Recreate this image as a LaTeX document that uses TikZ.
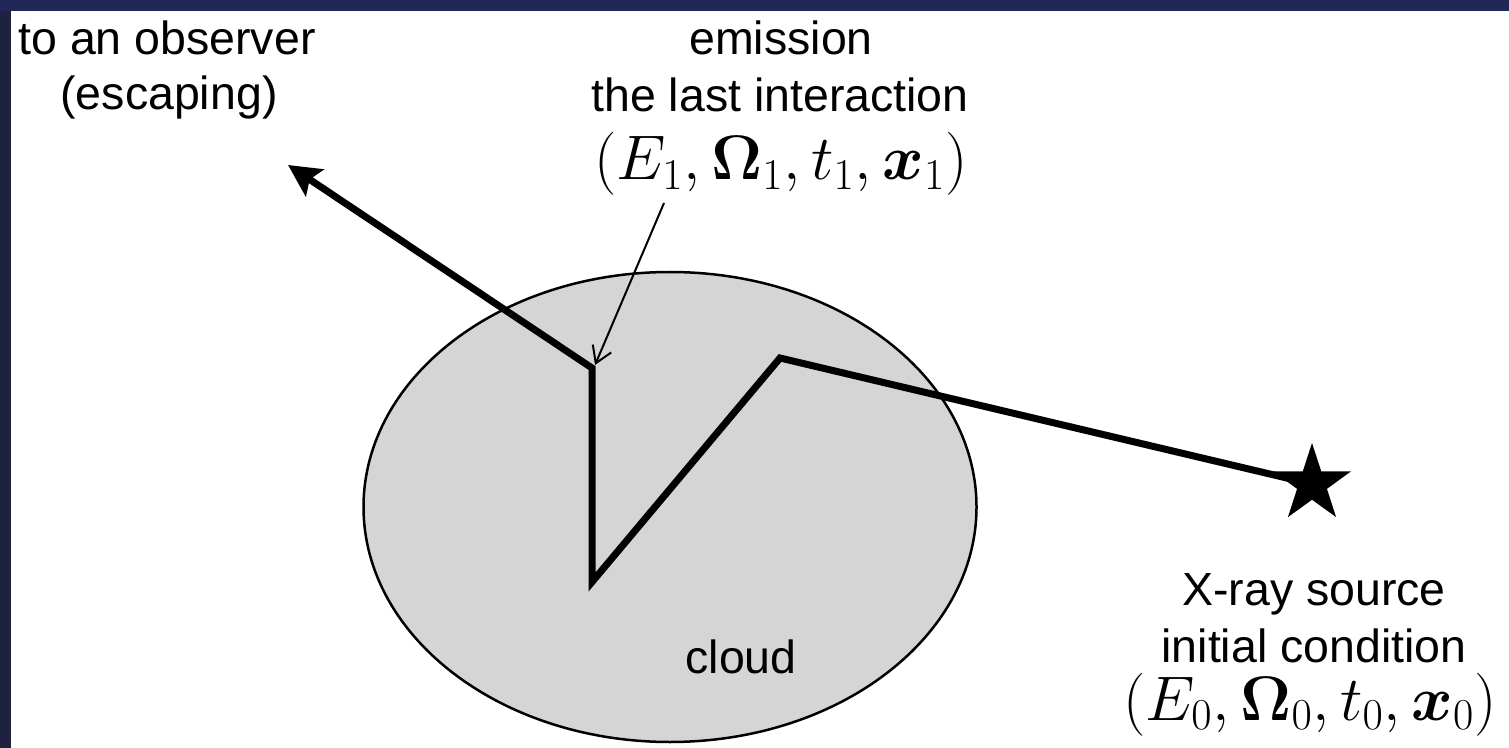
\RequirePackage{fix-cm}
\documentclass[tikz,border=0pt]{standalone}
\usepackage{amsmath}
\usepackage[no-math]{fontspec}
\setmainfont{Liberation Sans}
\usetikzlibrary{arrows.meta,shapes.geometric}
\definecolor{topband}{RGB}{33,40,88}
\definecolor{leftband}{RGB}{30,34,62}
\definecolor{cloudgray}{RGB}{213,213,213}
\tikzset{
  sanslbl/.style={font=\fontsize{23.25}{28}\selectfont, inner sep=0pt, anchor=base},
  mathlbl/.style={font=\fontsize{31.5}{38}\selectfont, inner sep=0pt, anchor=base},
  photon/.style={line width=3.5pt, -{Stealth[length=16pt,width=16pt,inset=3pt]}},
  pointer/.style={line width=1pt, -{Straight Barb[length=8pt,width=10pt]}},
  cloudshape/.style={fill=cloudgray, draw=black, line width=1.25pt}
}
\begin{document}
\begin{tikzpicture}[x=0.5pt,y=-0.5pt]
\useasboundingbox (0,0) rectangle (1509,748);
\fill[white] (0,0) rectangle (1509,748);
\fill[topband] (0,0) rectangle (1509,11);
\fill[leftband] (0,11) rectangle (11,748);

% cloud
\node[cloudshape, ellipse, minimum width=306.5pt, minimum height=235pt, inner sep=0pt] (cloud) at (670,507) {};
\node[sanslbl] (cloudlbl) at (741,673) {cloud};

% labels
\node[sanslbl] (obs1) at (167,55) {to an observer};
\node[sanslbl] (obs2) at (169,110) {(escaping)};
\node[sanslbl] (em1) at (781,55) {emission};
\node[sanslbl] (em2) at (780,112) {the last interaction};
\node[mathlbl] (m1) at (781,180) {$(E_1,\mathbf{\Omega}_1,t_1,\boldsymbol{x}_1)$};
\node[sanslbl] (xr1) at (1314,605) {X-ray source};
\node[sanslbl] (xr2) at (1314,662) {initial condition};
\node[mathlbl] (m0) at (1310,720) {$(E_0,\mathbf{\Omega}_0,t_0,\boldsymbol{x}_0)$};

% photon path
\coordinate (src) at (1312,484);
\coordinate (p1) at (780,358);
\coordinate (p2) at (592,582);
\coordinate (p3) at (592,368);
\coordinate (esc) at (288,165);
\draw[photon] (src) -- (p1) -- (p2) -- (p3) -- (esc);
% source star
\fill[black] (src) +(-90:41) -- +(-54:15.7) -- +(-18:41) -- +(18:15.7) -- +(54:41)
  -- +(90:15.7) -- +(126:41) -- +(162:15.7) -- +(198:41) -- +(234:15.7) -- cycle;

% pointer
\coordinate (a1) at (664,203);
\coordinate (a2) at (595,365);
\draw[pointer] (a1) -- (a2);
\end{tikzpicture}
\end{document}
